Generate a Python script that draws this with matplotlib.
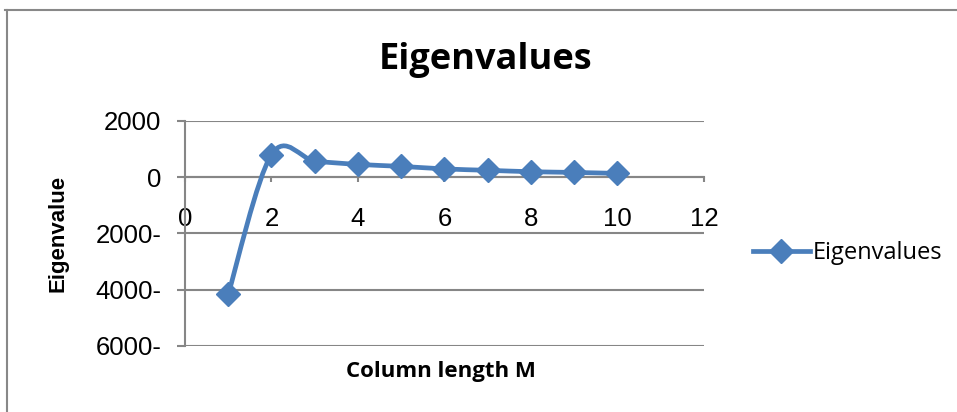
import numpy as np
import matplotlib.pyplot as plt
from matplotlib.path import Path
from matplotlib.patches import PathPatch
from matplotlib.lines import Line2D
from matplotlib.ticker import FuncFormatter

# values
column_length = [1, 2, 3, 4, 5, 6, 7, 8, 9, 10]
eigenvalues = [-4160, 800, 570, 450, 380, 290, 240, 190, 165, 130]
x_ticks = [0, 2, 4, 6, 8, 10, 12]
y_ticks = [-6000, -4000, -2000, 0, 2000]

BLUE = "#4A7EBB"
GRID = "#868686"


def smooth_path(xs, ys):
    # excel style smoothed line: cubic bezier through every point
    pts = np.column_stack([xs, ys]).astype(float)
    n = len(pts)
    verts = [pts[0]]
    codes = [Path.MOVETO]
    for i in range(n - 1):
        p0 = pts[i - 1] if i > 0 else pts[i]
        p1 = pts[i]
        p2 = pts[i + 1]
        p3 = pts[i + 2] if i + 2 < n else pts[i + 1]
        c1 = p1 + (p2 - p0) / 6
        c2 = p2 - (p3 - p1) / 6
        verts += [c1, c2, p2]
        codes += [Path.CURVE4] * 3
    return Path(verts, codes)


fig = plt.figure(figsize=(9.57, 4.12), dpi=100)
ax = fig.add_axes([0.1933, 0.1602, 0.5423, 0.5467])
ax.set_xlim(0, 12)
ax.set_ylim(-6000, 2000)

ax.set_xticks(x_ticks)
ax.set_yticks(y_ticks)
ax.yaxis.set_major_formatter(FuncFormatter(
    lambda v, pos: f"{abs(v):.0f}-" if v < 0 else f"{v:.0f}"))

ax.spines["top"].set_visible(False)
ax.spines["right"].set_visible(False)
ax.spines["bottom"].set_position(("data", 0))
for s in ("bottom", "left"):
    ax.spines[s].set_color(GRID)
    ax.spines[s].set_linewidth(1.5)

ax.yaxis.grid(True, color=GRID, linewidth=1.5)
ax.set_axisbelow(True)

ax.tick_params(axis="y", direction="out", length=6, width=1.5, color=GRID,
               pad=11, labelsize=18.5, labelcolor="black")
ax.tick_params(axis="x", direction="out", length=3.6, width=1.5, color=GRID,
               pad=18, labelsize=18.5, labelcolor="black")
for lab in ax.get_xticklabels() + ax.get_yticklabels():
    lab.set_fontfamily("Liberation Sans")

ax.add_patch(PathPatch(smooth_path(column_length, eigenvalues), facecolor="none",
                       edgecolor=BLUE, linewidth=3.4, capstyle="round",
                       joinstyle="round", zorder=3))
ax.plot(column_length, eigenvalues, linestyle="none", marker="D",
        markersize=12, color=BLUE, zorder=4, clip_on=False)

fig.text(486 / 957, 1 - 69 / 412, "Eigenvalues", ha="center", va="baseline",
         fontsize=26, fontweight="bold", family="Open Sans")
fig.text(441 / 957, 1 - 377 / 412, "Column length M", ha="center",
         va="baseline", fontsize=16, fontweight="bold", family="Open Sans")
fig.text(58 / 957, 1 - 233 / 412, "Eigenvalue", ha="center", va="center",
         rotation=90, fontsize=16, fontweight="bold", family="Liberation Sans")

handle = Line2D([], [], color=BLUE, linewidth=3.4, marker="D", markersize=12)
fig.legend([handle], ["Eigenvalues"], loc="center left",
           bbox_to_anchor=(753 / 957, 1 - 253 / 412), frameon=False,
           borderpad=0, borderaxespad=0, handlelength=2.4, handletextpad=0.15,
           prop={"family": "Open Sans", "size": 17})

# chart border (only top and left edges are visible in the crop)
fig.add_artist(Line2D([7 / 957, 7 / 957], [0, 1 - 10 / 412],
                      transform=fig.transFigure, color="#888888", linewidth=1.5))
fig.add_artist(Line2D([5 / 957, 1], [1 - 10 / 412, 1 - 10 / 412],
                      transform=fig.transFigure, color="#888888", linewidth=1.5))

fig.savefig("out.png", dpi=100)
